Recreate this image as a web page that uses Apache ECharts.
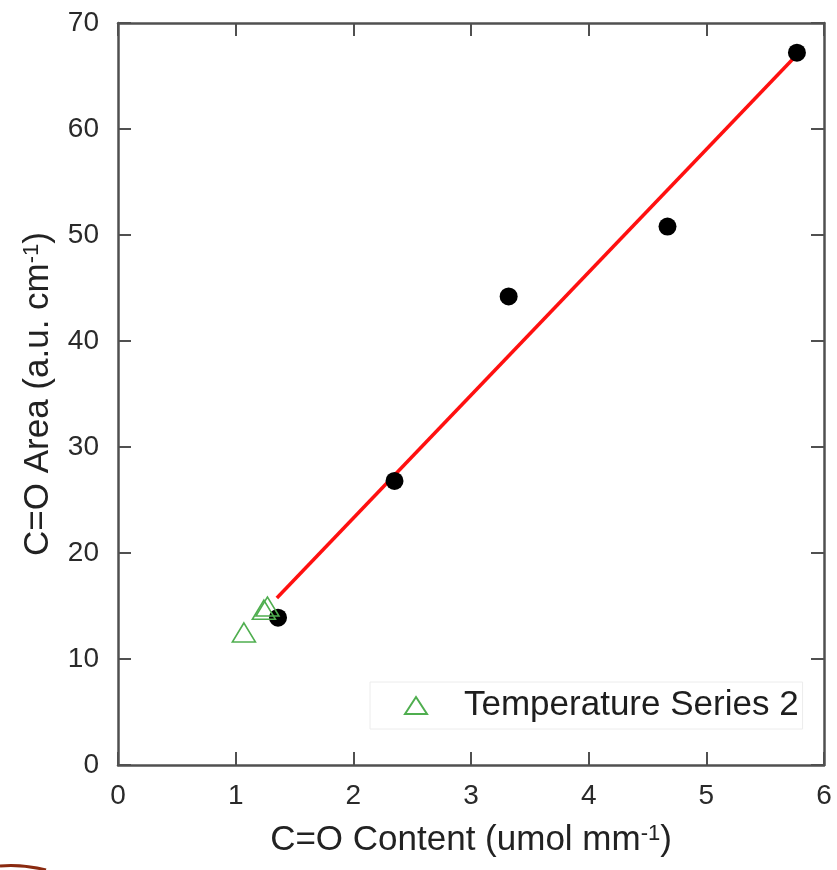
<!DOCTYPE html>
<html>
<head>
<meta charset="utf-8">
<script src="https://cdn.jsdelivr.net/npm/echarts@6/dist/echarts.min.js"></script>
<style>
  html, body { margin: 0; padding: 0; background: #fff; }
  #chart { width: 837px; height: 870px; }
</style>
</head>
<body>
<div id="chart"></div>
<script>
// Measured samples: carbonyl content vs integrated C=O band area
const contentX = [1.36, 2.35, 3.32, 4.67, 5.77];
const areaY = [13.9, 26.8, 44.2, 50.8, 67.2];

// Temperature Series 2 samples
const series2X = [1.07, 1.24, 1.27];
const series2Y = [12.5, 14.65, 14.95];

// Linear fit end points
const fitX = [1.35, 5.77];
const fitY = [15.75, 67.0];

// Axis ticks
const xTicks = [0, 1, 2, 3, 4, 5, 6];
const yTicks = [0, 10, 20, 30, 40, 50, 60, 70];

const FONT = 'Liberation Sans, Arial, sans-serif';
const AXIS_COLOR = '#505050';

const zip = (xs, ys) => xs.map((x, i) => [x, ys[i]]);

const axisCommon = {
  axisLine: { show: true, onZero: false, lineStyle: { color: AXIS_COLOR, width: 2.5 } },
  axisTick: { show: true, inside: true, length: 13, lineStyle: { color: AXIS_COLOR, width: 2 } },
  splitLine: { show: false }
};

const titleStyle = (size, supSize, lift) => ({
  fontFamily: FONT, fontSize: size, color: '#222',
  rich: { sup: { fontFamily: FONT, fontSize: supSize, color: '#222', verticalAlign: 'top', padding: [0, 0, lift, 0] } }
});

const chart = echarts.init(document.getElementById('chart'), null, { renderer: 'canvas' });

chart.setOption({
  animation: false,
  backgroundColor: '#ffffff',
  grid: { left: 118, right: 13, top: 23, bottom: 105, containLabel: false },
  xAxis: [
    Object.assign({
      type: 'value',
      position: 'bottom',
      min: xTicks[0], max: xTicks[xTicks.length - 1], interval: 1,
      name: 'C=O Content (umol mm{sup|-1})',
      nameLocation: 'middle',
      nameGap: 58,
      nameTextStyle: titleStyle(35, 22, 13),
      axisLabel: { fontFamily: FONT, fontSize: 28, color: '#2a2a2a', margin: 17 }
    }, axisCommon),
    Object.assign({
      type: 'value',
      position: 'top',
      min: xTicks[0], max: xTicks[xTicks.length - 1], interval: 1,
      axisLabel: { show: false }
    }, axisCommon)
  ],
  yAxis: [
    Object.assign({
      type: 'value',
      position: 'left',
      min: yTicks[0], max: yTicks[yTicks.length - 1], interval: 10,
      name: 'C=O Area (a.u. cm{sup|-1})',
      nameLocation: 'middle',
      nameGap: 62,
      nameTextStyle: titleStyle(35, 22, 13),
      axisLabel: { fontFamily: FONT, fontSize: 28, color: '#2a2a2a', margin: 19 }
    }, axisCommon),
    Object.assign({
      type: 'value',
      position: 'right',
      min: yTicks[0], max: yTicks[yTicks.length - 1], interval: 10,
      axisLabel: { show: false }
    }, axisCommon)
  ],
  legend: {
    data: ['Temperature Series 2'],
    left: 370,
    top: 682,
    orient: 'horizontal',
    backgroundColor: '#ffffff',
    borderColor: '#ececec',
    borderWidth: 1,
    padding: [6, 4, 6, 34],
    itemWidth: 22,
    itemHeight: 17,
    textStyle: { fontFamily: FONT, fontSize: 35, color: '#1e1e1e', padding: [0, 0, 0, 32] }
  },
  series: [
    {
      name: 'Fit',
      type: 'line',
      data: zip(fitX, fitY),
      symbol: 'none',
      lineStyle: { color: '#ff1010', width: 3.5 },
      z: 3
    },
    {
      name: 'Samples',
      type: 'scatter',
      data: zip(contentX, areaY),
      symbol: 'circle',
      symbolSize: 18,
      itemStyle: { color: '#000000', opacity: 1 },
      z: 4
    },
    {
      name: 'Temperature Series 2',
      type: 'scatter',
      data: zip(series2X, series2Y),
      symbol: 'triangle',
      symbolSize: [23, 19],
      itemStyle: { color: 'rgba(255,255,255,0)', borderColor: '#4fae4f', borderWidth: 1.6, opacity: 1 },
      z: 5
    }
  ],
  graphic: [
    {
      type: 'bezierCurve',
      shape: { x1: 0, y1: 866, cpx1: 12, cpy1: 865, cpx2: 30, cpy2: 866, x2: 46, y2: 870 },
      style: { stroke: '#8a2a10', lineWidth: 3, fill: null },
      silent: true
    }
  ]
});
</script>
</body>
</html>
